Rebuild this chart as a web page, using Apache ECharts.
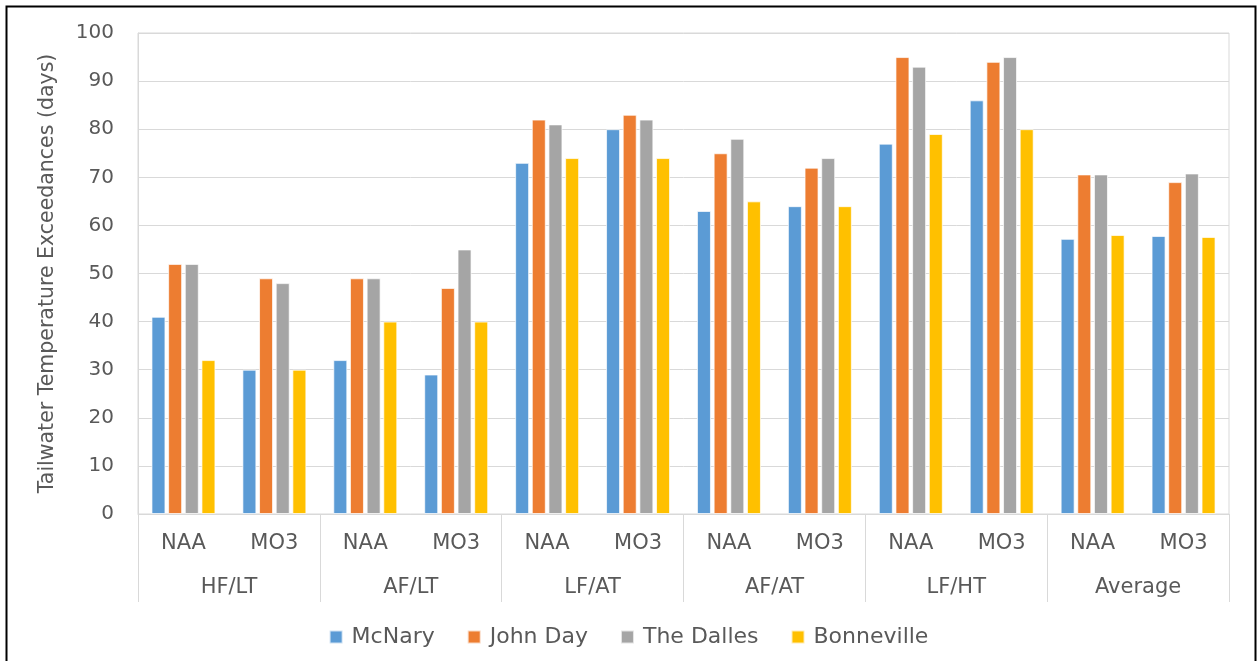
<!DOCTYPE html>
<html>
<head>
<meta charset="utf-8">
<script src="https://cdn.jsdelivr.net/npm/echarts@6/dist/echarts.min.js"></script>
<style>
html,body{margin:0;padding:0;background:#fff;}
#chart{width:1257px;height:661px;}
</style>
</head>
<body>
<div id="chart"></div>
<script>
const scenarios = ['NAA','MO3','NAA','MO3','NAA','MO3','NAA','MO3','NAA','MO3','NAA','MO3'];
const groups = ['HF/LT','AF/LT','LF/AT','AF/AT','LF/HT','Average'];
const yTicks = [0,10,20,30,40,50,60,70,80,90,100];
const mcnary      = [41,30,32,29,73,80,63,64,77,86,57.2,57.8];
const johnDay     = [52,49,49,47,82,83,75,72,95,94,70.6,69];
const theDalles   = [52,48,49,55,81,82,78,74,93,95,70.6,70.8];
const bonneville  = [32,30,40,40,74,74,65,64,79,80,58,57.6];
const seriesNames = ['McNary','John Day','The Dalles','Bonneville'];
const seriesData = [mcnary, johnDay, theDalles, bonneville];
const colors = ['#5B9BD5','#ED7D31','#A5A5A5','#FFC000'];

const FONT = 'DejaVu Sans';
const TXT = '#595959';
const GRID = '#d9d9d9';

const chart = echarts.init(document.getElementById('chart'));
chart.setOption({
  animation: false,
  color: colors,
  textStyle: {fontFamily: FONT},
  grid: {left: 138, right: 28, top: 33, bottom: 147, show: true, borderColor: GRID, borderWidth: 1},
  legend: {
    data: seriesNames,
    left: 'center',
    top: 621,
    icon: 'rect',
    itemWidth: 13,
    itemHeight: 13,
    itemGap: 32,
    textStyle: {fontFamily: FONT, fontSize: 22, color: TXT, padding: [0,0,0,4]}
  },
  xAxis: [
    {
      type: 'category',
      data: scenarios,
      position: 'bottom',
      axisLine: {show: true, lineStyle: {color: GRID, width: 1}},
      axisTick: {show: false},
      axisLabel: {fontFamily: FONT, fontSize: 21, color: TXT, margin: 19, interval: 0}
    },
    {
      type: 'category',
      data: groups,
      position: 'bottom',
      axisLine: {show: false},
      axisTick: {show: true, length: 88, lineStyle: {color: GRID, width: 1}},
      axisLabel: {fontFamily: FONT, fontSize: 21, color: TXT, margin: 63, interval: 0},
      splitLine: {show: false}
    }
  ],
  yAxis: {
    type: 'value',
    min: yTicks[0],
    max: yTicks[yTicks.length - 1],
    interval: yTicks[1] - yTicks[0],
    name: 'Tailwater Temperature Exceedances (days)',
    nameLocation: 'middle',
    nameGap: 80,
    nameTextStyle: {fontFamily: FONT, fontSize: 20.5, color: TXT},
    axisLine: {show: true, lineStyle: {color: GRID}},
    axisTick: {show: false},
    axisLabel: {fontFamily: FONT, fontSize: 20, color: TXT, margin: 24},
    splitLine: {show: true, lineStyle: {color: GRID, width: 1}}
  },
  series: seriesNames.map((n, i) => ({
    name: n,
    type: 'bar',
    xAxisIndex: 0,
    data: seriesData[i],
    barWidth: 14,
    barGap: '19%',
    itemStyle: {color: colors[i], borderColor: 'rgba(255,255,255,0.7)', borderWidth: 1}
  })),
  graphic: [{
    type: 'rect',
    shape: {x: 6.5, y: 6.5, width: 1249, height: 700},
    style: {fill: 'none', stroke: '#000', lineWidth: 2},
    silent: true,
    z: 100
  }]
});
</script>
</body>
</html>
